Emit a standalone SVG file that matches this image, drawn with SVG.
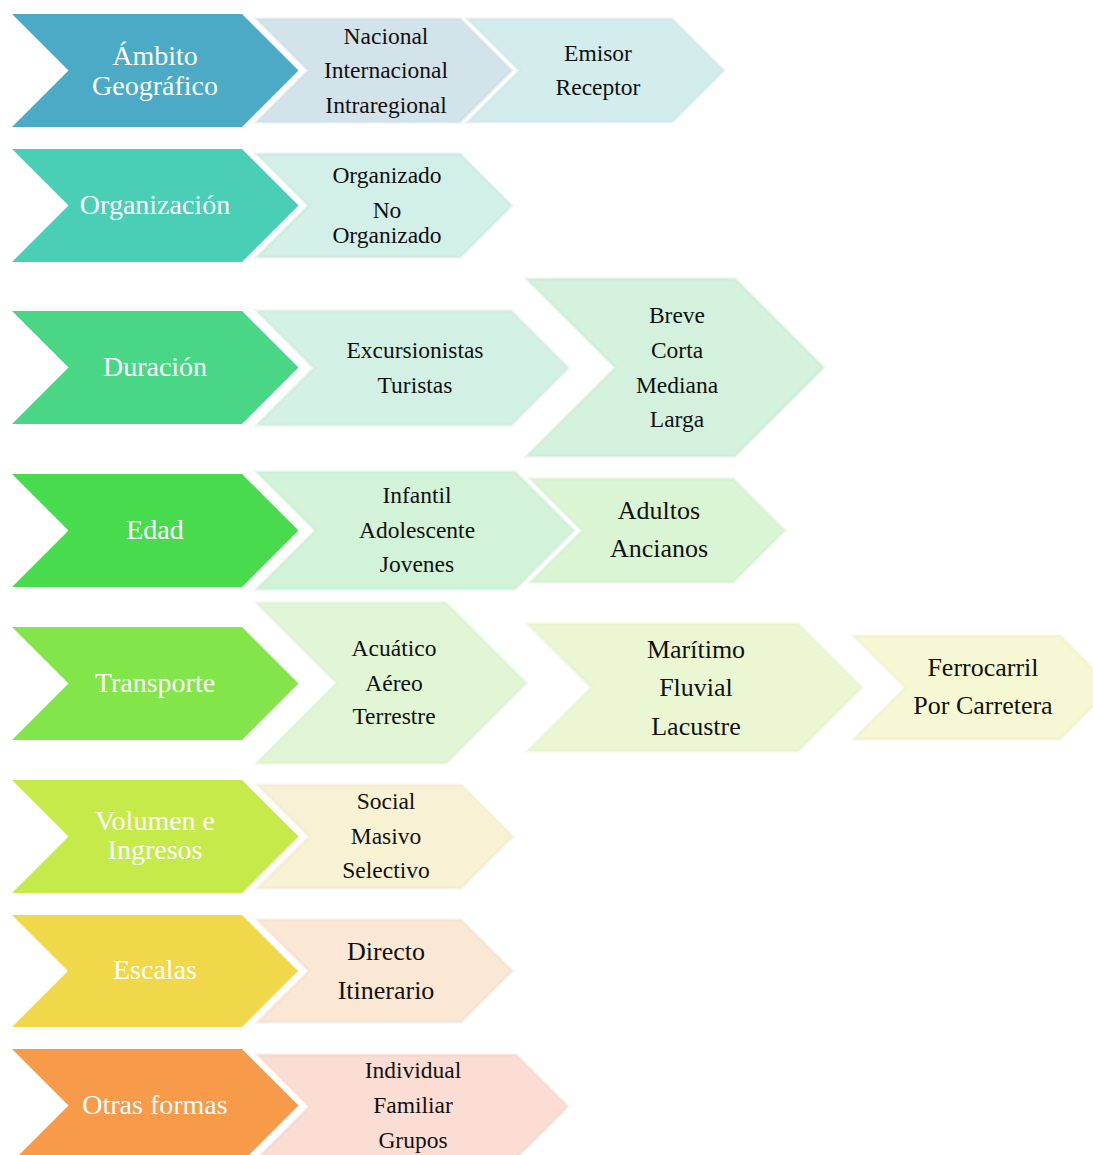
<svg xmlns="http://www.w3.org/2000/svg" width="1093" height="1155" viewBox="0 0 1093 1155">
<style>
text{font-family:"Liberation Serif","Times New Roman",serif;text-anchor:middle}
.m{fill:#fff;font-size:28px}
.s{fill:#111;font-size:23.5px}
.b{fill:#111;font-size:26px}
.sec{stroke-width:3;stroke-opacity:0.5}
</style>
<rect width="1093" height="1155" fill="#fff"/>
<g id="connectors"/>
<g id="n-ambito">
<polygon points="12,14 242,14 298.5,70.5 242,127 12,127 68.5,70.5" fill="#4BABC6"/>
<text class="m" x="155" y="65">Ámbito</text>
<text class="m" x="155" y="95">Geográfico</text>
</g>
<g id="n-ambito-1">
<polygon class="sec" points="257,19 460,19 511.5,70.5 460,122 257,122 308.5,70.5" fill="#D2E3EA" stroke="#C9DBE3"/>
<text class="s" x="386" y="44">Nacional</text>
<text class="s" x="386" y="78">Internacional</text>
<text class="s" x="386" y="113">Intraregional</text>
</g>
<g id="n-ambito-2">
<polygon class="sec" points="468,19 672,19 723.5,70.5 672,122 468,122 519.5,70.5" fill="#D3ECEC" stroke="#CAE5E5"/>
<text class="s" x="598" y="61">Emisor</text>
<text class="s" x="598" y="95">Receptor</text>
</g>
<g id="n-organizacion">
<polygon points="12,149 242,149 298.5,205.5 242,262 12,262 68.5,205.5" fill="#4ACEB5"/>
<text class="m" x="155" y="214">Organización</text>
</g>
<g id="n-organizacion-1">
<polygon class="sec" points="257,154 460,154 511.5,205.5 460,257 257,257 308.5,205.5" fill="#D2EFE8" stroke="#C8E8E0"/>
<text class="s" x="387" y="183">Organizado</text>
<text class="s" x="387" y="218">No</text>
<text class="s" x="387" y="243">Organizado</text>
</g>
<g id="n-duracion">
<polygon points="12,311 242,311 298.5,367.5 242,424 12,424 68.5,367.5" fill="#49D787"/>
<text class="m" x="155" y="376">Duración</text>
</g>
<g id="n-duracion-1">
<polygon class="sec" points="257,311 511,311 568,368 511,425 257,425 314,368" fill="#D3F0E4" stroke="#C9EADC"/>
<text class="s" x="415" y="358">Excursionistas</text>
<text class="s" x="415" y="393">Turistas</text>
</g>
<g id="n-duracion-2">
<polygon class="sec" points="527,279 735,279 823.5,367.5 735,456 527,456 615.5,367.5" fill="#D3F1DC" stroke="#C9EAD3"/>
<text class="s" x="677" y="323">Breve</text>
<text class="s" x="677" y="358">Corta</text>
<text class="s" x="677" y="393">Mediana</text>
<text class="s" x="677" y="427">Larga</text>
</g>
<g id="n-edad">
<polygon points="12,474 242,474 298.5,530.5 242,587 12,587 68.5,530.5" fill="#48DB4E"/>
<text class="m" x="155" y="539">Edad</text>
</g>
<g id="n-edad-1">
<polygon class="sec" points="257,472 515,472 573.5,530.5 515,589 257,589 315.5,530.5" fill="#D2F3D8" stroke="#C8ECCE"/>
<text class="s" x="417" y="503">Infantil</text>
<text class="s" x="417" y="538">Adolescente</text>
<text class="s" x="417" y="572">Jovenes</text>
</g>
<g id="n-edad-2">
<polygon class="sec" points="531,479 733,479 784.5,530.5 733,582 531,582 582.5,530.5" fill="#DAF5D4" stroke="#D0EECA"/>
<text class="b" x="659" y="519">Adultos</text>
<text class="b" x="659" y="557">Ancianos</text>
</g>
<g id="n-transporte">
<polygon points="12,627 242,627 298.5,683.5 242,740 12,740 68.5,683.5" fill="#82E54A"/>
<text class="m" x="155" y="692">Transporte</text>
</g>
<g id="n-transporte-1">
<polygon class="sec" points="257,603 446,603 526,683 446,763 257,763 337,683" fill="#E0F6D5" stroke="#D7EFCC"/>
<text class="s" x="394" y="656">Acuático</text>
<text class="s" x="394" y="691">Aéreo</text>
<text class="s" x="394" y="724">Terrestre</text>
</g>
<g id="n-transporte-2">
<polygon class="sec" points="528,624 798,624 861.5,687.5 798,751 528,751 591.5,687.5" fill="#EBF7D3" stroke="#E2F0C9"/>
<text class="b" x="696" y="658">Marítimo</text>
<text class="b" x="696" y="696">Fluvial</text>
<text class="b" x="696" y="735">Lacustre</text>
</g>
<g id="n-transporte-3">
<polygon class="sec" points="854,636 1060,636 1111.5,687.5 1060,739 854,739 905.5,687.5" fill="#F5F8D2" stroke="#ECF0C8"/>
<text class="b" x="983" y="676">Ferrocarril</text>
<text class="b" x="983" y="714">Por Carretera</text>
</g>
<g id="n-volumen">
<polygon points="12,780 242,780 298.5,836.5 242,893 12,893 68.5,836.5" fill="#C4EB4A"/>
<text class="m" x="155" y="830">Volumen e</text>
<text class="m" x="155" y="859">Ingresos</text>
</g>
<g id="n-volumen-1">
<polygon class="sec" points="258,785 461,785 512.5,836.5 461,888 258,888 309.5,836.5" fill="#F8F2D4" stroke="#F0E9CA"/>
<text class="s" x="386" y="809">Social</text>
<text class="s" x="386" y="844">Masivo</text>
<text class="s" x="386" y="878">Selectivo</text>
</g>
<g id="n-escalas">
<polygon points="12,915 242,915 298,971 242,1027 12,1027 68,971" fill="#F0D84A"/>
<text class="m" x="155" y="979">Escalas</text>
</g>
<g id="n-escalas-1">
<polygon class="sec" points="258,920 461,920 512,971 461,1022 258,1022 309,971" fill="#FAE7D4" stroke="#F2DECA"/>
<text class="b" x="386" y="960">Directo</text>
<text class="b" x="386" y="999">Itinerario</text>
</g>
<g id="n-otras">
<polygon points="12,1049 242,1049 298.5,1105.5 242,1162 12,1162 68.5,1105.5" fill="#F79A4A"/>
<text class="m" x="155" y="1114">Otras formas</text>
</g>
<g id="n-otras-1">
<polygon class="sec" points="258,1055 516,1055 567.5,1106.5 516,1158 258,1158 309.5,1106.5" fill="#FBDDD3" stroke="#F3D3C9"/>
<text class="s" x="413" y="1078">Individual</text>
<text class="s" x="413" y="1113">Familiar</text>
<text class="s" x="413" y="1148">Grupos</text>
</g>
</svg>
